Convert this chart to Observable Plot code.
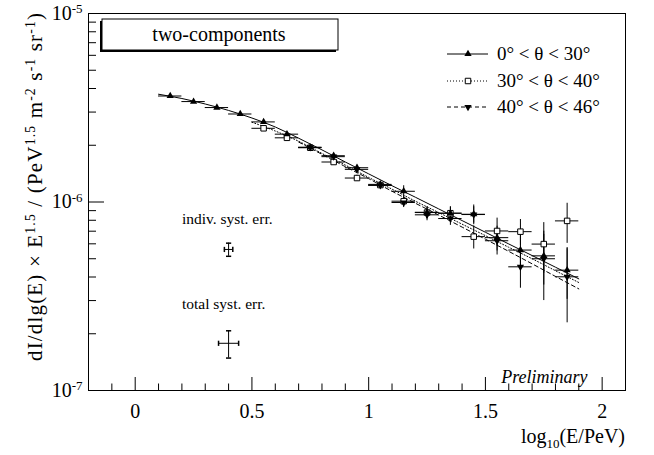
<!DOCTYPE html>
<html><head><meta charset="utf-8">
<script src="https://cdn.jsdelivr.net/npm/d3@7"></script>
<script src="https://cdn.jsdelivr.net/npm/@observablehq/plot@0.6"></script>
<style>body{margin:0;background:#fff} svg{display:block}</style>
</head><body><div id="chart"></div>
<script>
// ---- data ----
const xA = [0.15,0.25,0.35,0.45,0.55,0.65,0.75,0.85,0.95,1.05,1.15,1.25,1.35,1.45,1.55,1.65,1.75,1.85];
const fluxA = [3.65e-6,3.41e-6,3.17e-6,2.93e-6,2.66e-6,2.29e-6,1.95e-6,1.76e-6,1.52e-6,1.24e-6,1.14e-6,8.82e-7,8.72e-7,8.61e-7,6.47e-7,5.56e-7,5.18e-7,4.35e-7];
const errA = [0.02,0.02,0.02,0.02,0.02,0.025,0.025,0.03,0.03,0.04,0.07,0.07,0.08,0.12,0.15,0.2,0.3,0.3];

const xB = [0.55,0.65,0.75,0.85,0.95,1.05,1.15,1.25,1.35,1.45,1.55,1.65,1.75,1.85];
const fluxB = [2.46e-6,2.19e-6,1.94e-6,1.63e-6,1.34e-6,1.23e-6,1.01e-6,8.79e-7,8.72e-7,6.55e-7,7.02e-7,6.96e-7,5.98e-7,7.94e-7];
const errB = [0.025,0.025,0.03,0.03,0.035,0.04,0.06,0.07,0.08,0.14,0.17,0.16,0.3,0.24];

const xC = [0.75,0.85,0.95,1.05,1.15,1.25,1.35,1.45,1.55,1.65,1.75,1.85];
const fluxC = [1.95e-6,1.74e-6,1.49e-6,1.225e-6,9.94e-7,8.55e-7,8.17e-7,8.58e-7,6.23e-7,4.53e-7,5.0e-7,4.01e-7];
const errC = [0.03,0.03,0.035,0.04,0.06,0.07,0.08,0.1,0.16,0.23,0.4,0.43];

const binHalfWidth = 0.05;

const fitXA = [0.1,0.2,0.3,0.4,0.5,0.6,0.7,0.8,0.9,1.0,1.1,1.2,1.3,1.4,1.5,1.6,1.7,1.8,1.9];
const fitA = [3.73e-6,3.54e-6,3.31e-6,3.06e-6,2.79e-6,2.50e-6,2.18e-6,1.89e-6,1.63e-6,1.41e-6,1.22e-6,1.06e-6,9.19e-7,7.97e-7,6.91e-7,5.99e-7,5.20e-7,4.51e-7,3.91e-7];
const fitXB = [0.5,0.6,0.7,0.8,0.9,1.0,1.1,1.2,1.3,1.4,1.5,1.6,1.7,1.8,1.9];
const fitB = [2.65e-6,2.38e-6,2.10e-6,1.81e-6,1.57e-6,1.35e-6,1.17e-6,1.01e-6,8.79e-7,7.63e-7,6.63e-7,5.75e-7,5.00e-7,4.32e-7,3.74e-7];
const fitXC = [0.7,0.8,0.9,1.0,1.1,1.2,1.3,1.4,1.5,1.6,1.7,1.8,1.9];
const fitC = [2.08e-6,1.79e-6,1.54e-6,1.33e-6,1.14e-6,9.85e-7,8.53e-7,7.36e-7,6.35e-7,5.47e-7,4.70e-7,4.03e-7,3.46e-7];

const systX = [0.4, 0.4];
const systFlux = [5.6e-7, 1.78e-7];
const systErrX = [0.018, 0.043];
const systErrY = [0.08, 0.165];
const systLabels = ["indiv. syst. err.", "total syst. err."];

const seriesLabels = ["0\u00b0 < \u03b8 < 30\u00b0", "30\u00b0 < \u03b8 < 40\u00b0", "40\u00b0 < \u03b8 < 46\u00b0"];
const boxTitle = "two-components";
const prelimText = "Preliminary";

const xMajorTicks = [0, 0.5, 1, 1.5, 2];
const xTickLabels = ["0", "0.5", "1", "1.5", "2"];
const xMinorTicks = [-0.1,0.1,0.2,0.3,0.4,0.6,0.7,0.8,0.9,1.1,1.2,1.3,1.4,1.6,1.7,1.8,1.9];
const yMajorTicks = [1e-7, 1e-6, 1e-5];
const yTickExps = ["-7", "-6", "-5"];
const yMinorTicks = [2e-7,3e-7,4e-7,5e-7,6e-7,7e-7,8e-7,9e-7,2e-6,3e-6,4e-6,5e-6,6e-6,7e-6,8e-6,9e-6];

// ---- layout ----
const W = 654, H = 455;
const M = {left: 88, right: 29, top: 13, bottom: 65};
const FW = W - M.left - M.right, FH = H - M.top - M.bottom;
const FONT = "'Liberation Serif', 'Times New Roman', serif";

function pts(xs, ys, errs) {
  return xs.map((x, i) => ({x, y: ys[i], lo: ys[i]*(1-errs[i]), hi: ys[i]*(1+errs[i]), xlo: x-binHalfWidth, xhi: x+binHalfWidth}));
}
const PA = pts(xA, fluxA, errA), PB = pts(xB, fluxB, errB), PC = pts(xC, fluxC, errC);
const ALL = [...PA, ...PB, ...PC];
const fit = (xs, ys) => xs.map((x, i) => ({x, y: ys[i]}));
const syst = systX.map((x, i) => ({x, y: systFlux[i], xlo: x-systErrX[i], xhi: x+systErrX[i], lo: systFlux[i]*(1-systErrY[i]), hi: systFlux[i]*(1+systErrY[i])}));
const hCapPts = syst.flatMap(d => [{x: d.x, y: d.lo}, {x: d.x, y: d.hi}]);
const vCapPts = syst.flatMap(d => [{x: d.xlo, y: d.y}, {x: d.xhi, y: d.y}]);
const hLine = {draw(ctx, size){ const s = 2.6; ctx.moveTo(-s,0); ctx.lineTo(s,0);} };
const vLine = {draw(ctx, size){ const s = 2.6; ctx.moveTo(0,-s); ctx.lineTo(0,s);} };

const labelPos = [{x: 0.2, y: 8.1e-7}, {x: 0.2, y: 2.87e-7}];

const plot = Plot.plot({
  width: W, height: H,
  marginLeft: M.left, marginRight: M.right, marginTop: M.top, marginBottom: M.bottom,
  x: {domain: [-0.2, 2.1]},
  y: {type: "log", domain: [1e-7, 1e-5]},
  style: {fontFamily: FONT, fontSize: "20px", color: "black", background: "white", overflow: "visible"},
  marks: [
    Plot.axisX({ticks: xMajorTicks, tickSize: 0, tickPadding: 13, label: null, fontSize: 20,
      tickFormat: d => xTickLabels[xMajorTicks.indexOf(d)]}),
    Plot.axisY({ticks: yMajorTicks, tickSize: 0, tickPadding: 6, label: null, fontSize: 20,
      tickFormat: d => "10|" + yTickExps[yMajorTicks.indexOf(d)]}),
    Plot.tickX(xMajorTicks, {x: d => d, insetTop: FH - 13, stroke: "black"}),
    Plot.tickX(xMinorTicks, {x: d => d, insetTop: FH - 6.5, stroke: "black"}),
    Plot.tickY(yMajorTicks.slice(1, 2), {y: d => d, insetRight: FW - 16, stroke: "black"}),
    Plot.tickY(yMinorTicks, {y: d => d, insetRight: FW - 8, stroke: "black"}),
    // fits
    Plot.line(fit(fitXA, fitA), {x: "x", y: "y", stroke: "black", strokeWidth: 1, curve: "monotone-x"}),
    Plot.line(fit(fitXB, fitB), {x: "x", y: "y", stroke: "black", strokeWidth: 1, strokeDasharray: "1,2", curve: "monotone-x"}),
    Plot.line(fit(fitXC, fitC), {x: "x", y: "y", stroke: "black", strokeWidth: 1, strokeDasharray: "4,3", curve: "monotone-x"}),
    // error bars
    Plot.ruleX(ALL, {x: "x", y1: "lo", y2: "hi", stroke: "black", strokeWidth: 1}),
    Plot.ruleY(ALL, {y: "y", x1: "xlo", x2: "xhi", stroke: "black", strokeWidth: 1}),
    // markers
    Plot.dot(PB, {x: "x", y: "y", symbol: "square", r: 3.1, fill: "white", stroke: "black", strokeWidth: 1}),
    Plot.dot(PC, {x: "x", y: "y", symbol: "triangle", rotate: 180, r: 2.7, fill: "black", stroke: "none"}),
    Plot.dot(PA, {x: "x", y: "y", symbol: "triangle", r: 2.7, fill: "black", stroke: "none"}),
    // systematic error crosses
    Plot.ruleX(syst, {x: "x", y1: "lo", y2: "hi", stroke: "black"}),
    Plot.ruleY(syst, {y: "y", x1: "xlo", x2: "xhi", stroke: "black"}),
    Plot.dot(hCapPts, {x: "x", y: "y", symbol: hLine, r: 3, stroke: "black", fill: "none"}),
    Plot.dot(vCapPts, {x: "x", y: "y", symbol: vLine, r: 3, stroke: "black", fill: "none"}),
    Plot.text(systLabels, {x: (d, i) => labelPos[i].x, y: (d, i) => labelPos[i].y, text: d => d,
      textAnchor: "start", lineAnchor: "middle", fontSize: 15.5, fill: "black"}),
    Plot.text([prelimText], {frameAnchor: "bottom-right", text: d => d, dx: -38, dy: -13,
      textAnchor: "end", lineAnchor: "middle", fontStyle: "italic", fontSize: 18, fill: "black"}),
    Plot.frame({stroke: "black", strokeWidth: 1})
  ]
});

document.getElementById("chart").appendChild(plot);
const svg = d3.select(plot);

// y tick labels with superscripts
svg.selectAll('g[aria-label="y-axis tick label"] text').each(function() {
  const parts = this.textContent.split("|");
  this.textContent = parts[0];
  d3.select(this).append("tspan").attr("dy", "-0.5em").attr("font-size", "0.65em").text(parts[1]);
});

const T = (sel) => sel.style("font-family", FONT).attr("fill", "black");

// y axis title
const yt = T(svg.append("text")).attr("transform", `translate(42,${M.top}) rotate(-90)`)
  .attr("text-anchor", "end").attr("font-size", 21);
const ytParts = [["dI/dlg(E) \u00d7 E", 0], ["1.5", 1], [" / (PeV", 0], ["1.5", 1], [" m", 0], ["-2", 1], [" s", 0], ["-1", 1], [" sr", 0], ["-1", 1], [")", 0]];
let prevSup = 0;
ytParts.forEach(([t, sup]) => {
  const ts = yt.append("tspan").text(t);
  if (sup && !prevSup) ts.attr("dy", "-0.5em").attr("font-size", "0.65em");
  else if (!sup && prevSup) ts.attr("dy", "0.325em");
  else if (sup) ts.attr("font-size", "0.65em");
  prevSup = sup;
});
yt.attr("textLength", 348).attr("lengthAdjust", "spacing");

// x axis title
const xt = T(svg.append("text")).attr("x", W - M.right).attr("y", 443).attr("text-anchor", "end").attr("font-size", 20);
xt.append("tspan").text("log");
xt.append("tspan").attr("dy", "0.35em").attr("font-size", "0.65em").text("10");
xt.append("tspan").attr("dy", "-0.23em").text("(E/PeV)");

// title box with shadow
const bx = {x: 102, y: 19, w: 236, h: 31};
svg.append("rect").attr("x", bx.x - 2).attr("y", bx.y + 2).attr("width", bx.w).attr("height", bx.h).attr("fill", "black");
svg.append("rect").attr("x", bx.x).attr("y", bx.y).attr("width", bx.w).attr("height", bx.h).attr("fill", "white").attr("stroke", "black").attr("stroke-width", 1);
T(svg.append("text")).attr("x", bx.x + bx.w / 2 - 1).attr("y", bx.y + bx.h / 2).attr("dy", "0.33em")
  .attr("text-anchor", "middle").attr("font-size", 20).text(boxTitle);

// legend
const legendRowY = [54, 81, 107];
const legendStyle = [
  {dash: null, sym: d3.symbolTriangle, size: 23, rot: 0, fill: "black"},
  {dash: "1,2", sym: d3.symbolSquare, size: 30, rot: 0, fill: "white"},
  {dash: "4,3", sym: d3.symbolTriangle, size: 23, rot: 180, fill: "black"}
];
const lg = svg.append("g");
seriesLabels.forEach((lab, i) => {
  const yy = legendRowY[i], st = legendStyle[i];
  const ln = lg.append("line").attr("x1", 447).attr("x2", 488).attr("y1", yy).attr("y2", yy).attr("stroke", "black");
  if (st.dash) ln.attr("stroke-dasharray", st.dash);
  lg.append("path").attr("d", d3.symbol(st.sym, st.size)()).attr("transform", `translate(468,${yy}) rotate(${st.rot})`)
    .attr("fill", st.fill).attr("stroke", st.fill === "white" ? "black" : "none");
  T(lg.append("text")).attr("x", 497).attr("y", yy).attr("dy", "0.33em").attr("text-anchor", "start")
    .attr("font-size", 19).text(lab);
});
</script></body></html>
